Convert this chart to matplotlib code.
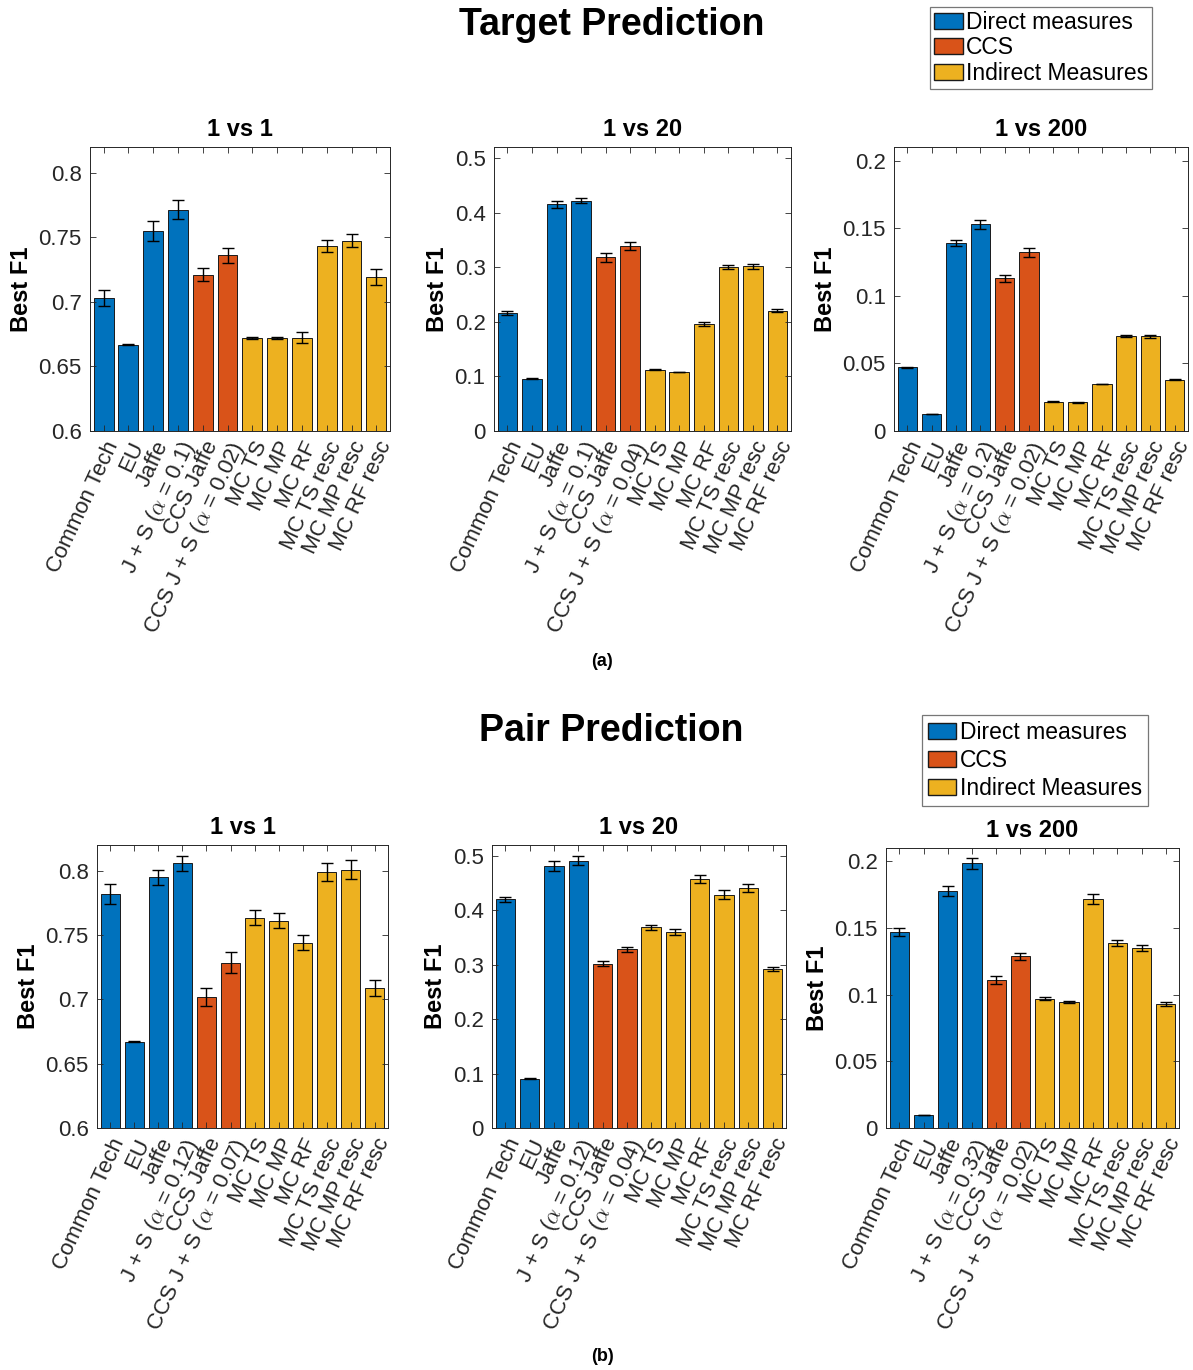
import matplotlib
matplotlib.use('Agg')
import matplotlib.pyplot as plt
from matplotlib.patches import Patch

plt.rcParams['font.family'] = ['Liberation Sans', 'DejaVu Sans']
plt.rcParams['mathtext.fontset'] = 'cm'

# colours (MATLAB defaults)
c_direct = '#0072BD'
c_ccs = '#D95319'
c_indirect = '#EDB120'
bar_colors = [c_direct] * 4 + [c_ccs] * 2 + [c_indirect] * 6

# tick labels
methods = ['Common Tech', 'EU', 'Jaffe', 'J + S ($\\alpha$ = {})', 'CCS Jaffe',
           'CCS J + S ($\\alpha$ = {})', 'MC TS', 'MC MP', 'MC RF',
           'MC TS resc', 'MC MP resc', 'MC RF resc']
panel_titles = ['1 vs 1', '1 vs 20', '1 vs 200']

# alpha values in the labels: (J + S, CCS J + S)
target_alphas = [('0.1', '0.02'), ('0.1', '0.04'), ('0.2', '0.02')]
pair_alphas = [('0.12', '0.07'), ('0.12', '0.04'), ('0.32', '0.02')]

# (a) Target prediction
target_1v1 = [0.703, 0.667, 0.755, 0.7715, 0.721, 0.736, 0.672, 0.672, 0.6724, 0.7433, 0.7475, 0.7193]
target_1v1_err = [0.006, 0.0003, 0.008, 0.0075, 0.005, 0.006, 0.0005, 0.001, 0.004, 0.0048, 0.005, 0.006]
target_1v20 = [0.216, 0.096, 0.415, 0.4217, 0.318, 0.339, 0.1126, 0.1077, 0.196, 0.3005, 0.3017, 0.2203]
target_1v20_err = [0.003, 0.001, 0.006, 0.0045, 0.008, 0.007, 0.0005, 0.0005, 0.0035, 0.004, 0.0045, 0.003]
target_1v200 = [0.047, 0.0127, 0.139, 0.1528, 0.113, 0.132, 0.0216, 0.0211, 0.0348, 0.0703, 0.070, 0.038]
target_1v200_err = [0.0005, 0.0002, 0.0023, 0.0032, 0.0027, 0.003, 0.0003, 0.0003, 0.0003, 0.001, 0.001, 0.0005]

# (b) Pair prediction
pair_1v1 = [0.782, 0.667, 0.7948, 0.8057, 0.702, 0.7286, 0.7636, 0.7613, 0.7442, 0.7987, 0.8008, 0.709]
pair_1v1_err = [0.0077, 0.0003, 0.006, 0.0057, 0.007, 0.008, 0.0057, 0.0057, 0.0058, 0.007, 0.0074, 0.006]
pair_1v20 = [0.4204, 0.0907, 0.4815, 0.4914, 0.3019, 0.3284, 0.3685, 0.3605, 0.4574, 0.429, 0.4407, 0.292]
pair_1v20_err = [0.005, 0.0005, 0.0095, 0.0086, 0.005, 0.005, 0.005, 0.005, 0.007, 0.0077, 0.007, 0.004]
pair_1v200 = [0.147, 0.0098, 0.178, 0.1985, 0.111, 0.129, 0.097, 0.0945, 0.172, 0.1388, 0.135, 0.0933]
pair_1v200_err = [0.0027, 0.0001, 0.0037, 0.0039, 0.003, 0.0026, 0.001, 0.001, 0.0036, 0.0026, 0.002, 0.0016]

ylims = [(0.6, 0.82), (0, 0.52), (0, 0.21)]
yticks = [[0.6, 0.65, 0.7, 0.75, 0.8], [0, 0.1, 0.2, 0.3, 0.4, 0.5], [0, 0.05, 0.1, 0.15, 0.2]]
ytick_labels = [['0.6', '0.65', '0.7', '0.75', '0.8'],
                ['0', '0.1', '0.2', '0.3', '0.4', '0.5'],
                ['0', '0.05', '0.1', '0.15', '0.2']]

fig = plt.figure(figsize=(11.93, 13.7), dpi=100)

# axes rectangles [left, bottom, width, height]
top_rects = [[0.0754, 0.6854, 0.2515, 0.2073],
             [0.4140, 0.6854, 0.2490, 0.2073],
             [0.7494, 0.6854, 0.2465, 0.2073]]
bot_rects = [[0.0813, 0.1766, 0.2440, 0.2066],
             [0.4124, 0.1766, 0.2464, 0.2066],
             [0.7427, 0.1766, 0.2456, 0.2044]]

x = list(range(1, 13))
txt_col = '#262626'


def draw_panel(rect, vals, errs, alphas, k):
    ax = fig.add_axes(rect)
    ax.bar(x, vals, width=0.8, color=bar_colors, edgecolor='#1a1a1a', linewidth=0.7)
    ax.errorbar(x, vals, yerr=errs, fmt='none', ecolor='black', elinewidth=1.0,
                capsize=4.5, capthick=1.0)
    ax.set_xlim(0.45, 12.55)
    ax.set_ylim(*ylims[k])
    ax.set_yticks(yticks[k])
    ax.set_yticklabels(ytick_labels[k])
    labels = [m.format(alphas[0]) if i == 3 else m.format(alphas[1]) if i == 5 else m
              for i, m in enumerate(methods)]
    ax.set_xticks(x)
    ax.set_xticklabels(labels, rotation=65, ha='right', va='top', rotation_mode='anchor')
    ax.tick_params(direction='in', top=True, right=True, length=4, width=0.6,
                   labelsize=16, colors=txt_col, pad=6)
    ax.tick_params(axis='x', pad=5)
    for s in ax.spines.values():
        s.set_linewidth(0.7)
        s.set_color(txt_col)
    ax.set_title(panel_titles[k], fontsize=17, fontweight='bold', pad=8)
    ax.set_ylabel('Best F1', fontsize=17, fontweight='bold', labelpad=4)
    return ax


target_vals = [target_1v1, target_1v20, target_1v200]
target_errs = [target_1v1_err, target_1v20_err, target_1v200_err]
pair_vals = [pair_1v1, pair_1v20, pair_1v200]
pair_errs = [pair_1v1_err, pair_1v20_err, pair_1v200_err]

for k in range(3):
    draw_panel(top_rects[k], target_vals[k], target_errs[k], target_alphas[k], k)
    draw_panel(bot_rects[k], pair_vals[k], pair_errs[k], pair_alphas[k], k)

fig.text(0.513, 0.9818, 'Target Prediction', ha='center', va='center', fontsize=27, fontweight='bold')
fig.text(0.512, 0.4664, 'Pair Prediction', ha='center', va='center', fontsize=27, fontweight='bold')
fig.text(0.505, 0.5175, '(a)', ha='center', va='center', fontsize=13, fontweight='bold')
fig.text(0.505, 0.0102, '(b)', ha='center', va='center', fontsize=13, fontweight='bold')

handles = [Patch(facecolor=c_direct, edgecolor='#1a1a1a', label='Direct measures'),
           Patch(facecolor=c_ccs, edgecolor='#1a1a1a', label='CCS'),
           Patch(facecolor=c_indirect, edgecolor='#1a1a1a', label='Indirect Measures')]

legend_specs = [((0.7795, 0.9949), 0.1, 0.18), ((0.7728, 0.4781), 0.22, 0.25)]
for anchor, spacing, bpad in legend_specs:
    leg = fig.legend(handles=handles, loc='upper left', bbox_to_anchor=anchor,
                     bbox_transform=fig.transFigure, fontsize=16.5, frameon=True,
                     fancybox=False, borderaxespad=0, handlelength=1.25,
                     handleheight=0.7, handletextpad=0.15, labelspacing=spacing,
                     borderpad=bpad)
    leg.get_frame().set_edgecolor('#555555')
    leg.get_frame().set_linewidth(0.9)

fig.savefig('out.png', dpi=100)
